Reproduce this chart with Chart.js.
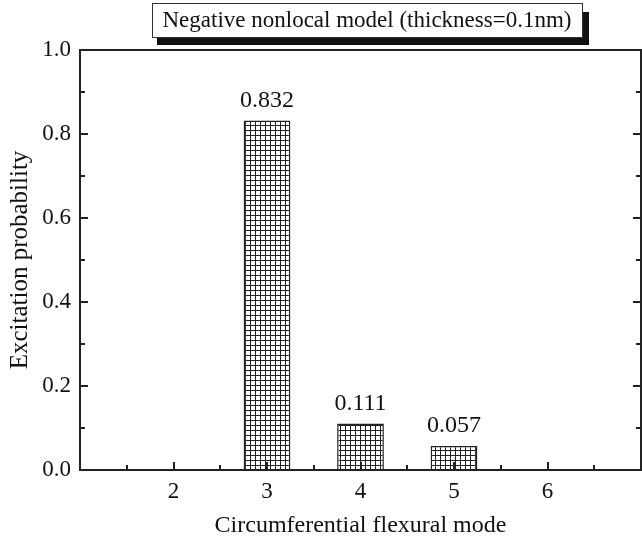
<!DOCTYPE html>
<html>
<head>
<meta charset="utf-8">
<script src="https://cdn.jsdelivr.net/npm/chart.js@4/dist/chart.umd.min.js"></script>
<style>
  html, body { margin: 0; padding: 0; background: #fff; }
  #chart { display: block; }
</style>
</head>
<body>
<canvas id="chart" width="642" height="545"></canvas>
<script>
// data
const modes = [2, 3, 4, 5, 6];
const probabilities = [0, 0.832, 0.111, 0.057, 0];
const modeTicks = [2, 3, 4, 5, 6];
const chartTitle = 'Negative nonlocal model (thickness=0.1nm)';
const xTitle = 'Circumferential flexural mode';
const yTitle = 'Excitation probability';

const serif = '"Liberation Serif", "Times New Roman", serif';

// square mesh fill used for the bars
const makeMesh = () => {
  const c = document.createElement('canvas');
  c.width = 5; c.height = 5;
  const g = c.getContext('2d');
  g.fillStyle = '#fff';
  g.fillRect(0, 0, 5, 5);
  g.fillStyle = '#222';
  g.fillRect(0, 0, 5, 1);
  g.fillRect(0, 0, 1, 5);
  return g.createPattern(c, 'repeat');
};

const framePlugin = {
  id: 'frame',
  beforeDraw(chart) {
    const ctx = chart.ctx;
    // boxed title with drop shadow
    const bx = 152, by = 3, bw = 430, bh = 34;
    ctx.save();
    ctx.fillStyle = '#111';
    ctx.fillRect(bx + 5, by + 9, bw + 2, bh - 1);
    ctx.fillStyle = '#fff';
    ctx.fillRect(bx, by, bw, bh);
    ctx.strokeStyle = '#333';
    ctx.lineWidth = 1;
    ctx.strokeRect(bx + 0.5, by + 0.5, bw, bh);
    ctx.fillStyle = '#111';
    ctx.font = '23px ' + serif;
    ctx.textAlign = 'center';
    ctx.textBaseline = 'middle';
    ctx.fillText(chartTitle, bx + bw / 2, by + bh / 2 + 1);
    ctx.restore();
  },
  afterDatasetsDraw(chart) {
    const ctx = chart.ctx;
    const a = chart.chartArea;
    const xs = chart.scales.x, ys = chart.scales.y;
    ctx.save();
    ctx.strokeStyle = '#222';
    ctx.lineWidth = 2;
    ctx.strokeRect(a.left, a.top, a.right - a.left, a.bottom - a.top);

    // inward ticks on bottom
    ctx.beginPath();
    for (let v = xs.min + 0.5; v < xs.max; v += 0.5) {
      const px = Math.round(xs.getPixelForValue(v));
      const len = Number.isInteger(v) ? 8 : 5;
      ctx.moveTo(px, a.bottom);
      ctx.lineTo(px, a.bottom - len);
    }
    // inward ticks on left and right
    for (let i = 1; i < 10; i++) {
      const v = i / 10;
      const py = Math.round(ys.getPixelForValue(v));
      const len = i % 2 === 0 ? 8 : 5;
      ctx.moveTo(a.left, py);
      ctx.lineTo(a.left + len, py);
      ctx.moveTo(a.right, py);
      ctx.lineTo(a.right - len, py);
    }
    ctx.stroke();

    // value labels above bars
    ctx.fillStyle = '#111';
    ctx.font = '24px ' + serif;
    ctx.textAlign = 'center';
    ctx.textBaseline = 'bottom';
    chart.getDatasetMeta(0).data.forEach((bar, i) => {
      if (probabilities[i] > 0) {
        ctx.fillText(probabilities[i].toFixed(3), bar.x, bar.y - 8);
      }
    });
    ctx.restore();
  }
};

new Chart(document.getElementById('chart'), {
  type: 'bar',
  data: {
    datasets: [{
      data: modes.map((m, i) => ({ x: m, y: probabilities[i] })),
      backgroundColor: makeMesh(),
      borderColor: '#222',
      borderWidth: 1.5,
      categoryPercentage: 0.5,
      barPercentage: 1
    }]
  },
  options: {
    responsive: false,
    animation: false,
    layout: { padding: { top: 50, right: 1, left: 0, bottom: 0 } },
    plugins: { legend: { display: false }, tooltip: { enabled: false } },
    scales: {
      x: {
        type: 'linear',
        min: 1,
        max: 7,
        offset: false,
        grid: { display: false, drawTicks: false },
        border: { display: false },
        afterFit: (s) => { s.height = 75; },
        afterBuildTicks: (s) => { s.ticks = modeTicks.map(v => ({ value: v })); },
        ticks: {
          color: '#111',
          font: { family: serif, size: 23 },
          padding: 8,
          maxRotation: 0,
          callback: (v) => String(v)
        },
        title: {
          display: true,
          text: xTitle,
          color: '#111',
          font: { family: serif, size: 24 },
          padding: { top: 4, bottom: 5 }
        }
      },
      y: {
        min: 0,
        max: 1,
        grid: { display: false, drawTicks: false },
        border: { display: false },
        afterFit: (s) => { s.width = 80; },
        ticks: {
          stepSize: 0.2,
          color: '#111',
          font: { family: serif, size: 23 },
          padding: 9,
          callback: (v) => v.toFixed(1)
        },
        title: {
          display: true,
          text: yTitle,
          color: '#111',
          font: { family: serif, size: 25 },
          padding: { top: 5, bottom: 4 }
        }
      }
    }
  },
  plugins: [framePlugin]
});
</script>
</body>
</html>
